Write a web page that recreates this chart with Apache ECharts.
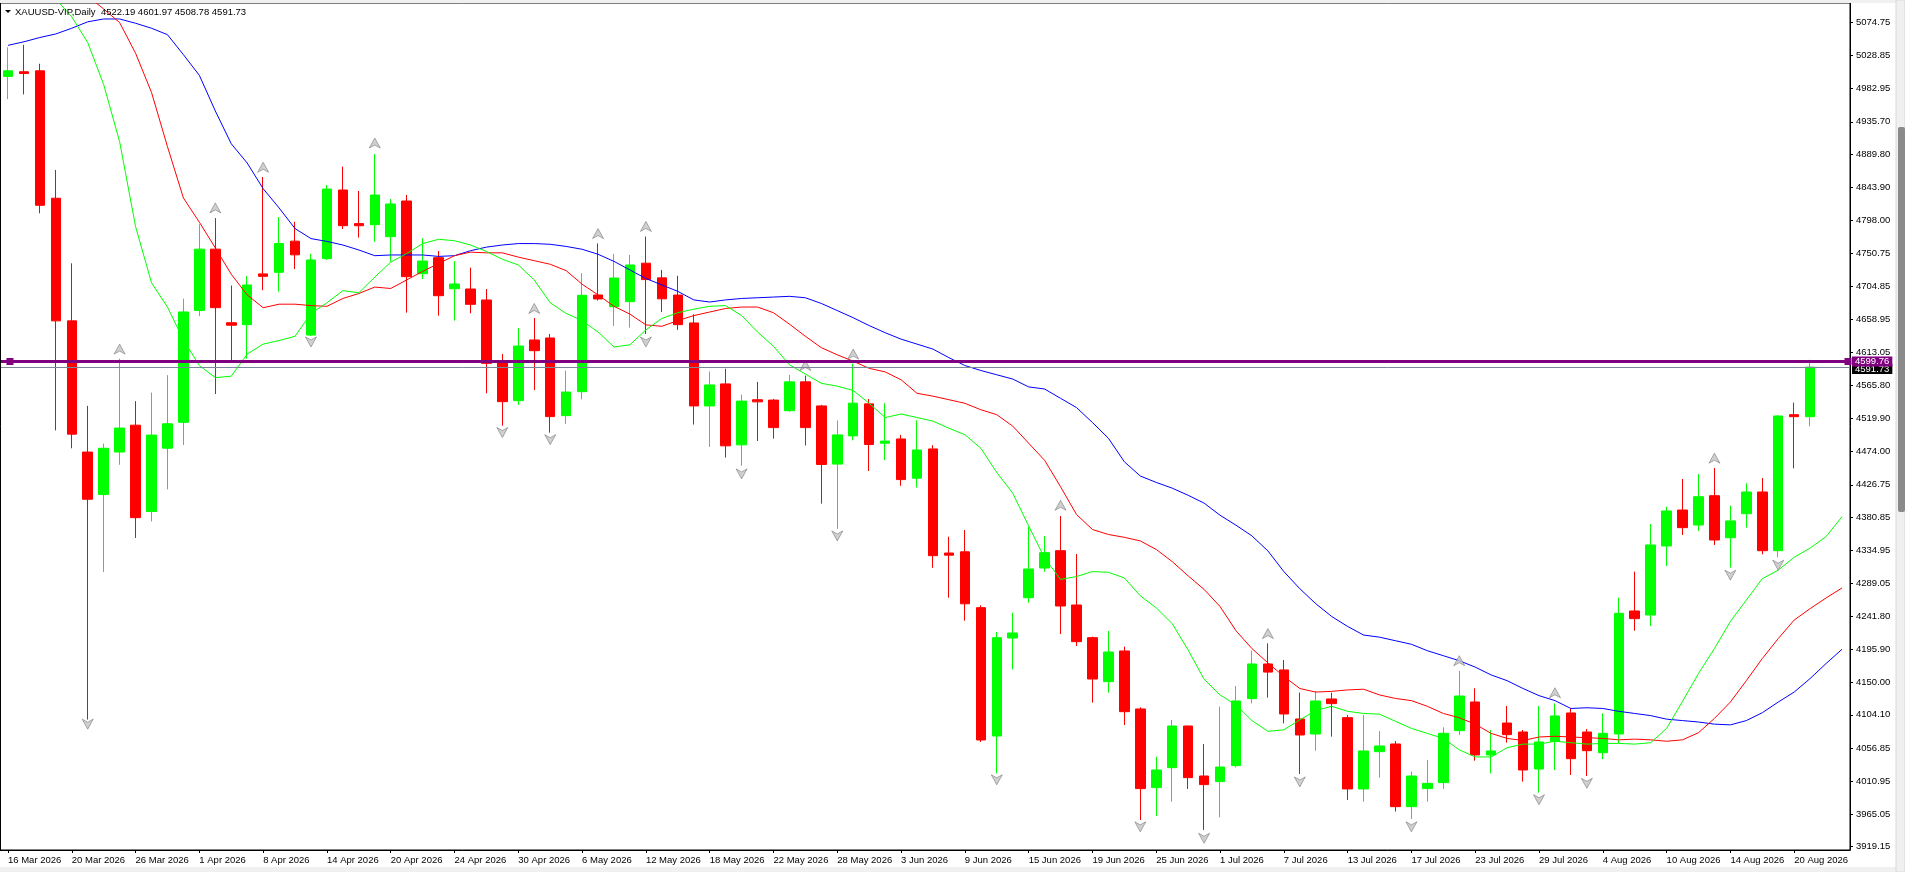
<!DOCTYPE html>
<html><head><meta charset="utf-8">
<script src="https://cdn.jsdelivr.net/npm/echarts@6/dist/echarts.min.js"></script>
<style>html,body{margin:0;padding:0;background:#fff;overflow:hidden}#c{width:1905px;height:872px;}</style>
</head><body><div id="c"></div>
<script>
const symbolName = 'XAUUSD-VIP,Daily';
const dates = [
'16 Mar 2026','17 Mar 2026','18 Mar 2026','19 Mar 2026','20 Mar 2026','23 Mar 2026','24 Mar 2026','25 Mar 2026','26 Mar 2026','27 Mar 2026','30 Mar 2026','31 Mar 2026',
'1 Apr 2026','2 Apr 2026','6 Apr 2026','7 Apr 2026','8 Apr 2026','9 Apr 2026','10 Apr 2026','13 Apr 2026','14 Apr 2026','15 Apr 2026','16 Apr 2026','17 Apr 2026','20 Apr 2026','21 Apr 2026','22 Apr 2026','23 Apr 2026','24 Apr 2026','27 Apr 2026','28 Apr 2026','29 Apr 2026','30 Apr 2026',
'1 May 2026','4 May 2026','5 May 2026','6 May 2026','7 May 2026','8 May 2026','11 May 2026','12 May 2026','13 May 2026','14 May 2026','15 May 2026','18 May 2026','19 May 2026','20 May 2026','21 May 2026','22 May 2026','25 May 2026','26 May 2026','27 May 2026','28 May 2026','29 May 2026',
'1 Jun 2026','2 Jun 2026','3 Jun 2026','4 Jun 2026','5 Jun 2026','8 Jun 2026','9 Jun 2026','10 Jun 2026','11 Jun 2026','12 Jun 2026','15 Jun 2026','16 Jun 2026','17 Jun 2026','18 Jun 2026','19 Jun 2026','22 Jun 2026','23 Jun 2026','24 Jun 2026','25 Jun 2026','26 Jun 2026','29 Jun 2026','30 Jun 2026',
'1 Jul 2026','2 Jul 2026','3 Jul 2026','6 Jul 2026','7 Jul 2026','8 Jul 2026','9 Jul 2026','10 Jul 2026','13 Jul 2026','14 Jul 2026','15 Jul 2026','16 Jul 2026','17 Jul 2026','20 Jul 2026','21 Jul 2026','22 Jul 2026','23 Jul 2026','24 Jul 2026','27 Jul 2026','28 Jul 2026','29 Jul 2026','30 Jul 2026','31 Jul 2026',
'3 Aug 2026','4 Aug 2026','5 Aug 2026','6 Aug 2026','7 Aug 2026','10 Aug 2026','11 Aug 2026','12 Aug 2026','13 Aug 2026','14 Aug 2026','17 Aug 2026','18 Aug 2026','19 Aug 2026','20 Aug 2026','21 Aug 2026','24 Aug 2026','25 Aug 2026'
];
const opens = [4999.4,5006.0,5007.3,4828.6,4656.6,4472.6,4413.0,4472.6,4510.3,4389.2,
4478.0,4514.3,4671.1,4757.2,4654.0,4651.3,4722.5,4724.7,4768.4,4636.7,
4743.9,4840.1,4793.0,4791.5,4774.7,4824.7,4722.8,4745.2,4701.7,4701.3,
4685.9,4598.4,4544.7,4629.8,4632.6,4523.7,4557.3,4692.9,4676.5,4683.5,
4737.5,4716.9,4692.8,4653.7,4537.3,4568.2,4482.7,4546.0,4545.5,4530.6,
4571.1,4537.3,4455.7,4495.3,4540.2,4485.0,4491.0,4435.9,4477.0,4331.0,
4332.7,4254.4,4074.4,4211.8,4268.4,4310.0,4334.3,4258.1,4212.3,4150.6,
4193.6,4112.3,4002.0,4030.0,4088.4,4018.3,4010.4,4032.8,4126.8,4175.4,
4167.0,4098.3,4077.2,4126.3,4100.1,4000.1,4052.4,4063.2,3975.3,4000.6,
4009.0,4081.9,4122.1,4047.8,4092.6,4080.0,4028.1,4066.9,4106.7,4080.0,
4051.0,4077.2,4249.7,4244.1,4340.9,4391.3,4370.3,4411.4,4352.5,4386.2,
4416.6,4334.3,4525.0,4522.19];
const highs = [5040.4,5043.7,5017.2,4868.3,4737.3,4537.4,4484.5,4603.6,4544.0,4556.0,
4580.5,4687.7,4792.2,4800.8,4706.2,4719.4,4858.4,4802.2,4795.6,4750.5,
4847.2,4872.9,4838.7,4890.6,4827.5,4833.1,4772.3,4754.6,4740.6,4731.2,
4701.3,4610.1,4646.6,4660.6,4638.2,4586.8,4723.3,4765.3,4750.4,4749.0,
4775.0,4728.1,4719.9,4665.8,4585.6,4589.5,4553.2,4571.1,4547.0,4580.8,
4579.8,4538.8,4517.0,4596.7,4547.0,4541.2,4496.7,4517.0,4482.3,4353.8,
4363.3,4257.7,4220.3,4247.4,4368.0,4354.9,4382.9,4329.6,4213.7,4221.7,
4199.7,4114.6,4045.4,4096.8,4089.0,4063.2,4115.5,4144.5,4194.1,4204.4,
4181.0,4135.2,4137.5,4135.2,4103.9,4103.9,4081.4,4067.4,4024.4,4040.8,
4086.6,4165.6,4141.3,4082.8,4116.5,4082.8,4116.5,4120.2,4113.2,4084.2,
4106.2,4268.4,4304.9,4371.7,4396.0,4434.8,4441.8,4450.2,4397.4,4428.7,
4436.2,4524.6,4541.9,4601.97];
const lows = [4967.6,4974.2,4807.5,4503.0,4477.9,4097.4,4304.5,4454.7,4352.1,4375.3,
4420.3,4482.5,4663.2,4554.0,4600.3,4603.6,4699.6,4697.6,4729.4,4635.4,
4742.0,4785.4,4773.3,4767.7,4739.6,4668.1,4715.3,4663.9,4656.9,4667.2,
4555.0,4509.6,4538.6,4559.6,4499.8,4512.0,4546.6,4685.0,4649.4,4647.1,
4638.2,4669.1,4644.0,4511.2,4479.8,4464.9,4453.3,4488.1,4491.4,4529.0,
4481.8,4400.2,4364.9,4489.0,4446.0,4461.5,4425.3,4422.9,4310.3,4268.3,
4236.1,4066.0,4022.0,4167.9,4261.4,4304.9,4217.5,4200.6,4121.2,4135.2,
4089.8,3956.6,3962.2,3982.3,4000.1,3942.6,3960.3,4030.5,4120.2,4128.2,
4092.2,4021.1,4053.8,4073.5,3984.7,3982.3,4016.0,3968.3,3958.0,3982.3,
4000.1,4075.8,4039.8,4022.0,4065.1,4010.4,3994.9,4026.7,4019.7,4018.3,
4041.7,4064.1,4222.1,4228.7,4312.8,4356.3,4361.9,4342.3,4310.5,4366.6,
4329.2,4325.0,4449.8,4508.78];
const closes = [5007.3,5003.5,4818.7,4656.6,4497.7,4406.4,4477.9,4506.3,4380.6,4496.4,
4512.3,4669.1,4757.2,4675.1,4650.5,4706.9,4719.0,4765.1,4749.2,4742.0,
4841.5,4790.1,4790.0,4833.1,4820.5,4718.6,4740.5,4691.9,4708.3,4679.8,
4597.0,4543.3,4621.3,4614.8,4522.3,4556.8,4692.5,4687.3,4716.7,4735.0,
4714.5,4687.5,4651.3,4537.3,4566.8,4481.3,4544.1,4543.0,4506.9,4571.1,
4506.9,4455.2,4496.7,4541.2,4483.2,4488.0,4434.0,4475.5,4327.3,4328.0,
4259.8,4068.8,4212.3,4218.9,4308.6,4331.5,4256.7,4206.7,4154.3,4192.2,
4108.5,4000.6,4026.7,4088.4,4016.0,4006.2,4030.9,4123.5,4175.4,4164.0,
4105.3,4075.8,4123.5,4119.8,4000.1,4053.4,4060.4,3975.3,4018.3,4008.0,
4078.2,4130.5,4047.8,4053.4,4076.3,4026.7,4066.0,4102.5,4042.6,4053.8,
4078.1,4246.4,4239.0,4342.3,4390.0,4366.6,4410.0,4349.3,4376.0,4416.6,
4334.3,4523.2,4522.19,4591.73];
// Alligator lines as plotted (shifted, extend past the last bar)
const lipsGreen = [5155,5140,5125,5108,5083,5047,4988,4908,4789,4710,
4676,4630,4594,4577,4579,4610,4624,4629,4635,4667,
4682,4699,4696,4718,4739,4751,4765,4771,4769,4763,
4754,4743,4735,4714,4682,4667,4657,4641,4620,4623,
4644,4660,4668,4673,4677,4678,4664,4641,4621,4595,
4582,4569,4565,4559,4541,4521,4526,4521,4516,4506,
4497,4478,4444,4415,4369,4324,4294,4298,4305,4304,
4296,4271,4254,4232,4195,4154,4132,4118,4096,4081,
4083,4097,4110,4116,4109,4106,4105,4095,4085,4078,
4071,4055,4045,4045,4058,4063,4063,4067,4065,4063,
4064,4064,4063,4065,4085,4123,4162,4197,4235,4265,
4295,4307,4325,4338,4354,4382];
const teethRed = [5160,5150,5140,5130,5122,5112,5094,5075,5032,4977,
4901,4829,4795,4759,4722,4693,4675,4680,4680,4678,
4677,4688,4695,4704,4702,4714,4726,4737,4748,4753,
4752,4752,4746,4741,4736,4727,4708,4693,4677,4666,
4651,4649,4657,4664,4669,4674,4676,4676,4668,4652,
4635,4619,4609,4600,4590,4585,4574,4555,4551,4546,
4541,4532,4525,4509,4485,4461,4424,4385,4364,4357,
4353,4348,4336,4319,4299,4280,4256,4222,4197,4177,
4158,4141,4136,4137,4139,4140,4132,4127,4124,4116,
4106,4100,4091,4078,4071,4068,4073,4074,4073,4072,
4071,4069,4070,4069,4067,4069,4079,4099,4122,4152,
4183,4211,4237,4253,4268,4282];
const jawBlue = [5043,5048,5054,5059,5067,5076,5080,5080,5074,5067,
5058,5030,5001,4951,4905,4878,4842,4815,4786,4772,
4768,4763,4756,4748,4749,4749,4749,4747,4748,4755,
4760,4763,4765,4765,4764,4761,4757,4750,4740,4728,
4716,4707,4698,4686,4683,4686,4688,4689,4690,4691,
4689,4681,4671,4661,4650,4640,4631,4624,4617,4605,
4594,4587,4581,4575,4564,4561,4548,4535,4514,4492,
4459,4439,4430,4422,4412,4401,4384,4370,4355,4334,
4305,4281,4260,4242,4228,4216,4213,4208,4203,4194,
4187,4180,4171,4160,4152,4141,4131,4124,4113,4114,
4113,4109,4106,4103,4098,4096,4094,4091,4090,4096,
4107,4122,4136,4155,4176,4196];
const fractalUpBars = [7,13,16,23,33,37,40,50,53,66,79,91,97,107];
const fractalUpPrices = [4617,4815,4872,4906,4674,4779,4789,4594,4610,4398,4218,4180,4135,4464];
const fractalDownBars = [5,19,31,34,40,46,52,62,71,75,81,88,96,99,108,111];
const fractalDownPrices = [4091,4627,4500,4490,4627,4442,4355,4013,3947,3931,4010,3947,3985,4008,4300,4314];
const yTickLabels = [5074.75,5028.85,4982.95,4935.70,4889.80,4843.90,4798.00,4750.75,4704.85,4658.95,4613.05,4565.80,4519.90,4474.00,4426.75,4380.85,4334.95,4289.05,4241.80,4195.90,4150.00,4104.10,4056.85,4010.95,3965.05,3919.15];
const bidPrice = 4591.73;
const hLinePrice = 4599.76;

const FONT = '"Liberation Sans", Arial, sans-serif';
const candles = opens.map((o, i) => [o, closes[i], lows[i], highs[i]]);
const L = candles.length - 1;
const headerText = symbolName + '  ' + [opens[L], highs[L], lows[L], closes[L]].map(v => v.toFixed(2)).join(' ');

const chart = echarts.init(document.getElementById('c'), null, {renderer: 'canvas'});
const option = {
  animation: false,
  backgroundColor: '#ffffff',
  grid: {left: -7, right: 55, top: 3, bottom: 22, show: true, borderColor: '#000', borderWidth: 1, backgroundColor: 'transparent'},
  xAxis: {
    type: 'category', data: dates, boundaryGap: true,
    axisLine: {lineStyle: {color: '#000', width: 1}},
    axisTick: {show: true, interval: 3, alignWithLabel: true, length: 3, lineStyle: {color: '#000'}},
    axisLabel: {interval: 3, align: 'left', margin: 5, color: '#000', fontFamily: FONT, fontSize: 9.5, hideOverlap: false},
    splitLine: {show: false}
  },
  yAxis: {
    type: 'value', position: 'right', min: 3914.5, max: 5102.4, scale: true,
    axisLine: {show: true, lineStyle: {color: '#000'}},
    axisTick: {show: true, length: 3, customValues: yTickLabels, lineStyle: {color: '#000'}},
    axisLabel: {customValues: yTickLabels, formatter: v => Number(v).toFixed(2), margin: 6, color: '#000', fontFamily: FONT, fontSize: 9.5},
    splitLine: {show: false}
  },
  series: [
    {
      type: 'candlestick', data: candles, barWidth: 10, z: 2, clip: true,
      itemStyle: {color: '#00ff00', color0: '#ff0000', borderColor: '#00ff00', borderColor0: '#ff0000', borderWidth: 1},
      markLine: {
        silent: true, symbol: 'none', animation: false, z: 5,
        data: [
          {yAxis: bidPrice, lineStyle: {color: '#778899', width: 1, type: 'solid'},
           label: {show: true, position: 'end', distance: 2, offset: [0, 2], formatter: () => bidPrice.toFixed(2), color: '#fff', backgroundColor: '#000', padding: [1, 3, 0, 3], lineHeight: 9, fontFamily: FONT, fontSize: 9.5}},
          {yAxis: hLinePrice, lineStyle: {color: '#800080', width: 3, type: 'solid'},
           label: {show: true, position: 'end', distance: 2, formatter: () => hLinePrice.toFixed(2), color: '#fff', backgroundColor: '#800080', padding: [1, 3, 0, 3], lineHeight: 9, fontFamily: FONT, fontSize: 9.5}}
        ]
      },
      markPoint: {
        silent: true, animation: false, z: 6,
        symbol: 'path://M0,0H7V7H0Z M3,3V4H4V3Z', symbolSize: 7,
        itemStyle: {color: '#800080'}, label: {show: false},
        data: [
          {coord: [dates[0], hLinePrice], symbolOffset: [2, 0]},
          {coord: [dates[dates.length - 1], hLinePrice], symbolOffset: [6, 0]}
        ]
      }
    },
    {type: 'line', data: jawBlue, symbol: 'none', z: 3, clip: true, lineStyle: {color: '#0000ff', width: 1}, silent: true},
    {type: 'line', data: teethRed, symbol: 'none', z: 3, clip: true, lineStyle: {color: '#ff0000', width: 1}, silent: true},
    {type: 'line', data: lipsGreen, symbol: 'none', z: 3, clip: true, lineStyle: {color: '#00ff00', width: 1}, silent: true},
    {type: 'scatter', data: fractalUpBars.map((b, i) => [b, fractalUpPrices[i]]), z: 4, silent: true,
     symbol: 'path://M5,0L10,10L5,7L0,10Z', symbolSize: [11, 10],
     itemStyle: {color: '#c4c4c4', borderColor: '#707070', borderWidth: 0.7}},
    {type: 'scatter', data: fractalDownBars.map((b, i) => [b, fractalDownPrices[i]]), z: 4, silent: true,
     symbol: 'path://M0,0L5,3L10,0L5,10Z', symbolSize: [11, 10],
     itemStyle: {color: '#c4c4c4', borderColor: '#707070', borderWidth: 0.7}}
  ],
  graphic: [
    {type: 'rect', shape: {x: 0, y: 0, width: 1905, height: 3}, style: {fill: '#f0f0f0'}, z: 100, silent: true},
    {type: 'rect', shape: {x: 0, y: 867, width: 1905, height: 5}, style: {fill: '#f0f0f0'}, z: 100, silent: true},
    {type: 'rect', shape: {x: 1896, y: 0, width: 9, height: 872}, style: {fill: '#f0f0f0', stroke: '#d8d8d8', lineWidth: 1}, z: 100, silent: true},
    {type: 'rect', shape: {x: 1898, y: 127, width: 7, height: 385, r: 2}, style: {fill: '#8a8a8a'}, z: 101, silent: true},
    {type: 'line', shape: {x1: 0.5, y1: 3, x2: 0.5, y2: 850}, style: {stroke: '#000', lineWidth: 1}, z: 100, silent: true},
    {type: 'polygon', shape: {points: [[5, 10], [11, 10], [8, 13]]}, style: {fill: '#000'}, z: 100, silent: true},
    {type: 'text', x: 15, y: 7, style: {text: headerText, font: '9.5px ' + FONT, fill: '#000'}, z: 100, silent: true}
  ]
};
chart.setOption(option);
</script>
</body></html>
